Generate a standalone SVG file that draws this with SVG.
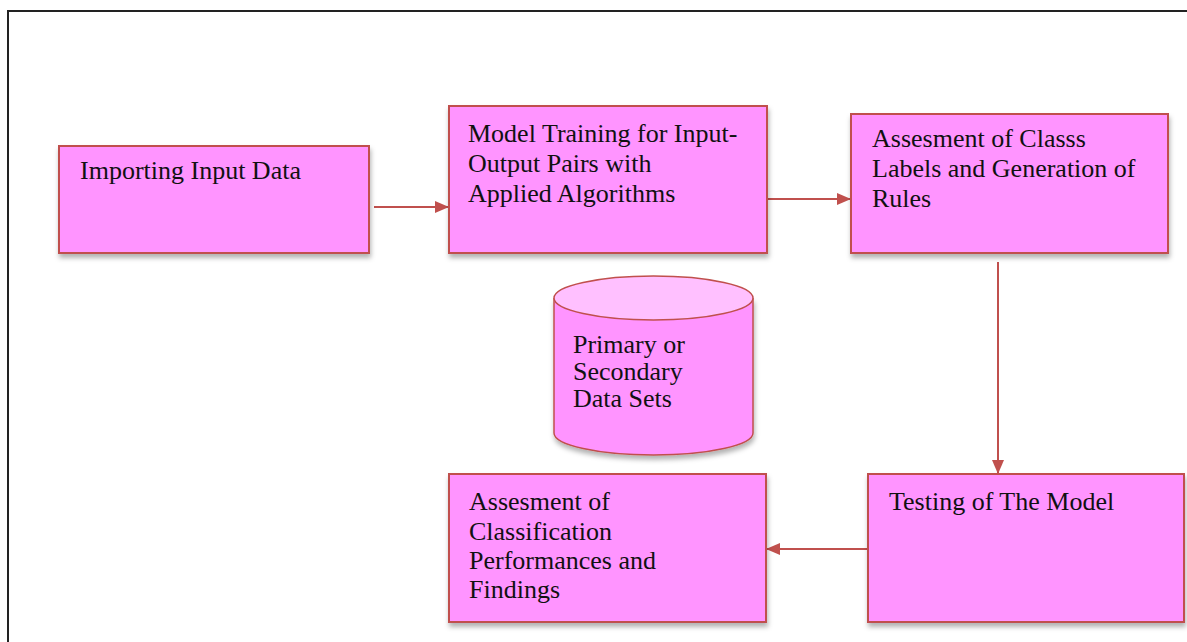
<svg xmlns="http://www.w3.org/2000/svg" width="1187" height="642" viewBox="0 0 1187 642">
<style>
.box{fill:#FF94FF;stroke:#C0504D;stroke-width:2;filter:url(#sh)}
.t{font-family:"Liberation Serif","Times New Roman",serif;font-size:26px;fill:#111}
.c{stroke:#C0504D;stroke-width:2;fill:none}
</style>
<defs>
<filter id="sh" x="-10%" y="-10%" width="120%" height="130%">
<feDropShadow dx="1" dy="4" stdDeviation="2.5" flood-color="#000" flood-opacity="0.3"/>
</filter>
<marker id="ah" markerWidth="14" markerHeight="12" refX="14" refY="6" orient="auto" markerUnits="userSpaceOnUse" viewBox="0 0 14 12">
<path d="M0,0 L14,6 L0,12 z" fill="#C0504D"/>
</marker>
</defs>
<rect width="1187" height="642" fill="#fff"/>
<path d="M8,642 V11 H1187" fill="none" stroke="#222" stroke-width="2"/>
<g id="connectors">
<line class="c" x1="374" y1="207" x2="449" y2="207" marker-end="url(#ah)"/>
<line class="c" x1="763" y1="199" x2="851" y2="199" marker-end="url(#ah)"/>
<line class="c" x1="998" y1="262" x2="998" y2="474" marker-end="url(#ah)"/>
<line class="c" x1="868" y1="549" x2="766" y2="549" marker-end="url(#ah)"/>
</g>
<g id="n1">
<rect class="box" x="59" y="146" width="310" height="107"/>
<text class="t" x="80" y="179">Importing Input Data</text>
</g>
<g id="n2">
<rect class="box" x="449" y="106" width="318" height="147"/>
<text class="t" x="468" y="142">Model Training for Input-</text>
<text class="t" x="468" y="172">Output Pairs with</text>
<text class="t" x="468" y="202">Applied  Algorithms</text>
</g>
<g id="n3">
<rect class="box" x="851" y="114" width="317" height="139"/>
<text class="t" x="872" y="147">Assesment of Classs</text>
<text class="t" x="872" y="177">Labels and Generation of</text>
<text class="t" x="872" y="207">Rules</text>
</g>
<g id="n4">
<path d="M554,298 V433 A99.5,22 0 0 0 753,433 V298" fill="#FF94FF" stroke="#C0504D" stroke-width="1.5" filter="url(#sh)"/>
<ellipse cx="653.5" cy="298" rx="99.5" ry="22" fill="#FFC0FF" stroke="#C0504D" stroke-width="1.5"/>
<text class="t" x="573" y="353">Primary or</text>
<text class="t" x="573" y="380">Secondary</text>
<text class="t" x="573" y="407">Data Sets</text>
</g>
<g id="n5">
<rect class="box" x="868" y="474" width="316" height="148"/>
<text class="t" x="889" y="510">Testing of The Model</text>
</g>
<g id="n6">
<rect class="box" x="449" y="474" width="317" height="148"/>
<text class="t" x="469" y="510">Assesment of</text>
<text class="t" x="469" y="540">Classification</text>
<text class="t" x="469" y="569">Performances and</text>
<text class="t" x="469" y="598">Findings</text>
</g>
</svg>
